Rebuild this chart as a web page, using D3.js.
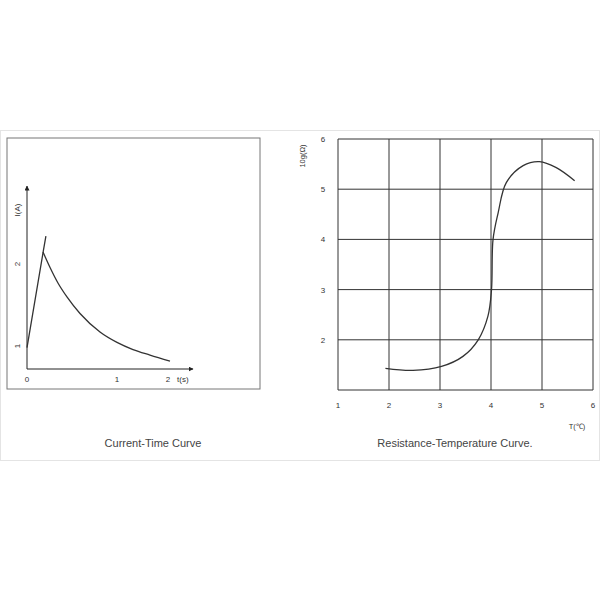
<!DOCTYPE html>
<html><head><meta charset="utf-8">
<script src="https://cdn.jsdelivr.net/npm/d3@7"></script>
<style>body{margin:0;background:#fff}</style>
</head><body>
<svg id="c" width="600" height="600"></svg>
<script>
// current-time curve
const ctRise = [[0, 0.98], [0.18, 2.15], [0.21, 2.34]];
const ctDecay = [[0.178, 2.146], [0.256, 1.957], [0.344, 1.768], [0.444, 1.598], [0.589, 1.396], [0.811, 1.171], [1.0, 1.044], [1.314, 0.957], [1.647, 0.89], [2.039, 0.817]];
const ctXTicks = [0, 1, 2];
const ctYTicks = [1, 2];
// resistance-temperature curve
const rtCurve = [[1.93, 1.43], [2.47, 1.39], [3.03, 1.47], [3.45, 1.67], [3.75, 2.0], [3.94, 2.47], [4.01, 3.0], [4.04, 4.0], [4.14, 4.53], [4.30, 5.13], [4.63, 5.47], [4.95, 5.55], [5.28, 5.43], [5.64, 5.17]];
const rtTicks = [1, 2, 3, 4, 5, 6];

const svg = d3.select("#c").attr("font-family", "Arial, 'Liberation Sans', sans-serif");

svg.append("rect").attr("x", 0.5).attr("y", 130.5).attr("width", 599).attr("height", 330)
  .attr("fill", "none").attr("stroke", "#e4e4e4");

// ---- left panel
svg.append("rect").attr("x", 7).attr("y", 138).attr("width", 253).attr("height", 251)
  .attr("fill", "none").attr("stroke", "#777").attr("stroke-width", 1);

const x1 = d3.scaleLinear().domain([0, 1, 2]).range([27, 117, 168]);
const y1 = d3.scaleLinear().domain([1, 2]).range([346, 264]);
const ox = 27, oy = 369;

const defs = svg.append("defs");
defs.append("marker").attr("id", "arr").attr("viewBox", "0 -5 10 10").attr("refX", 9).attr("refY", 0)
  .attr("orient", "auto").attr("markerWidth", 5).attr("markerHeight", 5)
  .append("path").attr("d", "M0,-5L10,0L0,5Z").attr("fill", "#222");

svg.append("line").attr("x1", ox).attr("y1", oy).attr("x2", 193).attr("y2", oy)
  .attr("stroke", "#222").attr("marker-end", "url(#arr)");
svg.append("line").attr("x1", ox).attr("y1", oy).attr("x2", ox).attr("y2", 186)
  .attr("stroke", "#222").attr("marker-end", "url(#arr)");

svg.selectAll(".xt1").data(ctXTicks).join("text")
  .attr("x", d => x1(d)).attr("y", 382).attr("text-anchor", "middle")
  .attr("font-size", 8).attr("fill", "#333").text(d => d);
svg.append("text").attr("x", 177).attr("y", 382).attr("font-size", 8).attr("fill", "#333").text("t(s)");
svg.selectAll(".yt1").data(ctYTicks).join("text")
  .attr("transform", d => `translate(20,${y1(d)}) rotate(-90)`).attr("text-anchor", "middle")
  .attr("font-size", 8).attr("fill", "#333").text(d => d);
svg.append("text").attr("transform", "translate(20,210) rotate(-90)").attr("text-anchor", "middle")
  .attr("font-size", 8).attr("fill", "#333").text("I(A)");

const line1 = d3.line().x(d => x1(d[0])).y(d => y1(d[1]));
const line1c = d3.line().x(d => x1(d[0])).y(d => y1(d[1])).curve(d3.curveMonotoneX);
svg.append("path").attr("d", line1(ctRise)).attr("fill", "none").attr("stroke", "#333").attr("stroke-width", 1.3);
svg.append("path").attr("d", line1c(ctDecay)).attr("fill", "none").attr("stroke", "#333").attr("stroke-width", 1.3);

svg.append("text").attr("x", 153).attr("y", 447).attr("text-anchor", "middle")
  .attr("font-size", 11).attr("fill", "#444").text("Current-Time Curve");

// ---- right panel
const x2 = d3.scaleLinear().domain([1, 6]).range([338, 593]);
const y2 = d3.scaleLinear().domain([1, 6]).range([390, 139]);
const grid = svg.append("g").attr("stroke", "#333").attr("stroke-width", 1);
grid.selectAll(".gx").data(rtTicks).join("line")
  .attr("x1", d => x2(d)).attr("x2", d => x2(d)).attr("y1", y2(1)).attr("y2", y2(6));
grid.selectAll(".gy").data(rtTicks).join("line")
  .attr("y1", d => y2(d)).attr("y2", d => y2(d)).attr("x1", x2(1)).attr("x2", x2(6));

svg.selectAll(".xt2").data(rtTicks).join("text")
  .attr("x", d => x2(d)).attr("y", 408).attr("text-anchor", "middle")
  .attr("font-size", 8).attr("fill", "#333").text(d => d);
svg.selectAll(".yt2").data(rtTicks.slice(1)).join("text")
  .attr("x", 323).attr("y", d => y2(d) + 3).attr("text-anchor", "middle")
  .attr("font-size", 8).attr("fill", "#333").text(d => d);
svg.append("text").attr("transform", "translate(305,156) rotate(-90)").attr("text-anchor", "middle")
  .attr("font-size", 7.5).attr("fill", "#333").text("10g(Ω)");
svg.append("text").attr("x", 577).attr("y", 429).attr("text-anchor", "middle")
  .attr("font-size", 7.5).attr("fill", "#333").text("T(℃)");

const line2 = d3.line().x(d => x2(d[0])).y(d => y2(d[1])).curve(d3.curveCatmullRom);
svg.append("path").attr("d", line2(rtCurve)).attr("fill", "none").attr("stroke", "#333").attr("stroke-width", 1.3);

svg.append("text").attr("x", 455).attr("y", 447).attr("text-anchor", "middle")
  .attr("font-size", 11).attr("fill", "#444").text("Resistance-Temperature Curve.");
</script>
</body></html>
